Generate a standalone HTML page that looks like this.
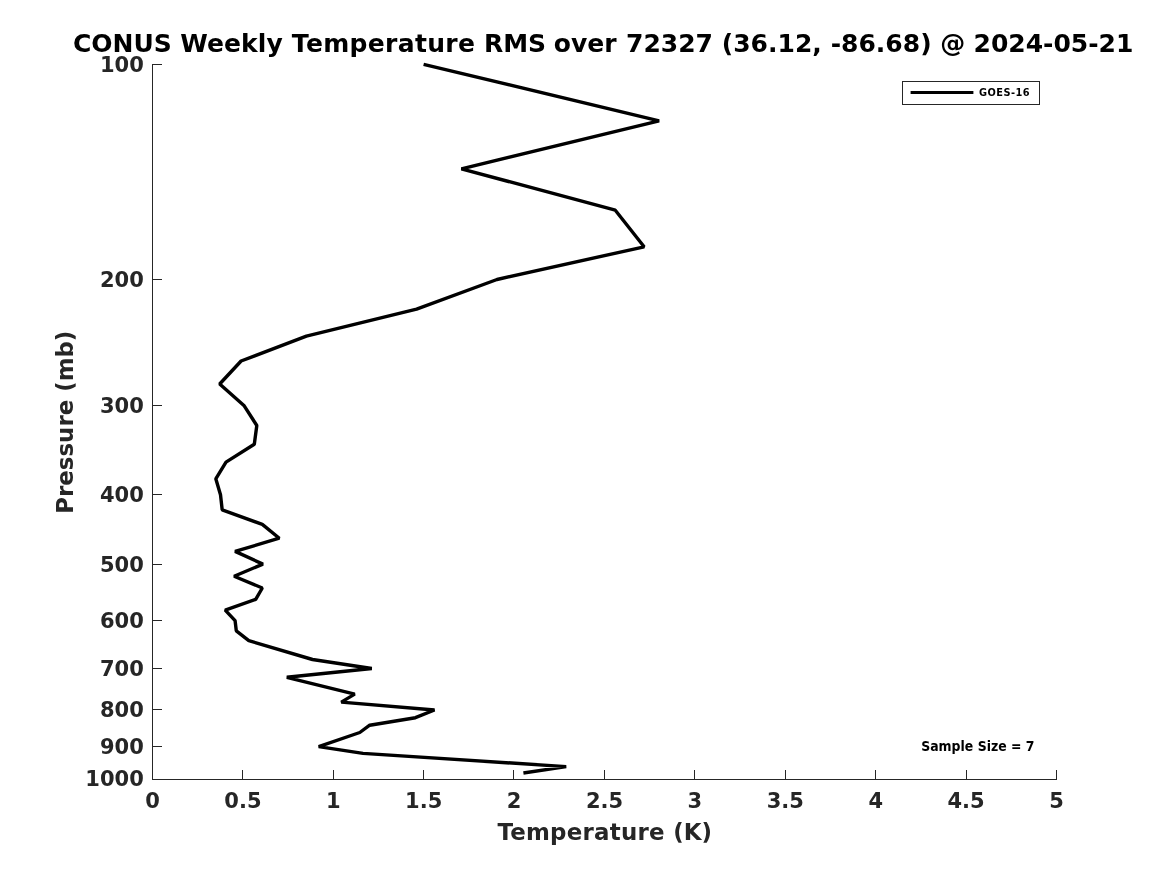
<!DOCTYPE html>
<html lang="en"><head><meta charset="utf-8"><title>CONUS Weekly Temperature RMS</title>
<style>
html,body{margin:0;padding:0;background:#fff;}
body{width:1167px;height:875px;overflow:hidden;}
svg{display:block;}
text{font-family:'DejaVu Sans','Liberation Sans',sans-serif;font-weight:bold;}
.tick{font-size:21px;fill:#262626;}
.lab{font-size:22.9px;fill:#262626;}
.title{font-size:25px;fill:#000;}
</style></head><body>
<svg width="1167" height="875" viewBox="0 0 1167 875">
<rect width="1167" height="875" fill="#fff"/>
<text class="title" y="51.8"><tspan x="72.9">CONUS </tspan><tspan x="180.2" style="letter-spacing:0.1px">Weekly </tspan><tspan x="291.85" style="letter-spacing:0.33px">Temperature </tspan><tspan x="483.9">RMS </tspan><tspan x="553.8">over </tspan><tspan x="626.0">72327 </tspan><tspan x="721.8">(36.12, </tspan><tspan x="830.7">-86.68) </tspan><tspan x="940.3">@ </tspan><tspan x="973.5">2024-05-21</tspan></text>
<g stroke="#262626" stroke-width="1" fill="none" shape-rendering="crispEdges">
<line x1="152.5" y1="64.0" x2="152.5" y2="780.0"/>
<line x1="152.0" y1="779.5" x2="1057.0" y2="779.5"/>
<line x1="152.5" y1="779.5" x2="152.5" y2="770.0"/>
<line x1="242.5" y1="779.5" x2="242.5" y2="770.0"/>
<line x1="333.5" y1="779.5" x2="333.5" y2="770.0"/>
<line x1="423.5" y1="779.5" x2="423.5" y2="770.0"/>
<line x1="513.5" y1="779.5" x2="513.5" y2="770.0"/>
<line x1="604.5" y1="779.5" x2="604.5" y2="770.0"/>
<line x1="694.5" y1="779.5" x2="694.5" y2="770.0"/>
<line x1="785.5" y1="779.5" x2="785.5" y2="770.0"/>
<line x1="875.5" y1="779.5" x2="875.5" y2="770.0"/>
<line x1="966.5" y1="779.5" x2="966.5" y2="770.0"/>
<line x1="1056.5" y1="779.5" x2="1056.5" y2="770.0"/>
<line x1="152.5" y1="64.5" x2="162.0" y2="64.5"/>
<line x1="152.5" y1="279.5" x2="162.0" y2="279.5"/>
<line x1="152.5" y1="405.5" x2="162.0" y2="405.5"/>
<line x1="152.5" y1="494.5" x2="162.0" y2="494.5"/>
<line x1="152.5" y1="564.5" x2="162.0" y2="564.5"/>
<line x1="152.5" y1="620.5" x2="162.0" y2="620.5"/>
<line x1="152.5" y1="668.5" x2="162.0" y2="668.5"/>
<line x1="152.5" y1="709.5" x2="162.0" y2="709.5"/>
<line x1="152.5" y1="746.5" x2="162.0" y2="746.5"/>
<line x1="152.5" y1="779.5" x2="162.0" y2="779.5"/>
</g>
<g class="tick" text-anchor="middle">
<text x="152.5" y="807.5">0</text>
<text x="242.9" y="807.5">0.5</text>
<text x="333.3" y="807.5">1</text>
<text x="423.7" y="807.5">1.5</text>
<text x="514.1" y="807.5">2</text>
<text x="604.5" y="807.5">2.5</text>
<text x="694.9" y="807.5">3</text>
<text x="785.3" y="807.5">3.5</text>
<text x="875.7" y="807.5">4</text>
<text x="966.1" y="807.5">4.5</text>
<text x="1056.5" y="807.5">5</text>
</g>
<g class="tick" text-anchor="end">
<text x="143.8" y="71.7">100</text>
<text x="143.8" y="286.9">200</text>
<text x="143.8" y="412.8">300</text>
<text x="143.8" y="502.2">400</text>
<text x="143.8" y="571.5">500</text>
<text x="143.8" y="628.1">600</text>
<text x="143.8" y="675.9">700</text>
<text x="143.8" y="717.4">800</text>
<text x="143.8" y="754.0">900</text>
<text x="143.8" y="785.9">1000</text>
</g>
<text class="lab" y="839.5"><tspan x="497.4" style="letter-spacing:0.25px">Temperature </tspan><tspan x="673.3">(K)</tspan></text>
<text class="lab" transform="translate(73.2,422.2) rotate(-90)" text-anchor="middle">Pressure (mb)</text>
<polyline points="423.6,64.3 659.1,120.9 461.4,168.8 615.3,210.2 644.1,246.8 497.0,279.5 416.6,309.1 306.4,336.2 241.1,361.0 219.7,384.0 243.9,405.4 256.8,425.5 254.3,444.3 226.0,462.1 215.8,478.8 220.5,494.8 222.2,509.9 262.3,524.4 279.3,538.2 235.1,551.4 262.9,564.1 234.1,576.2 262.3,588.0 255.7,599.3 225.2,610.2 235.1,620.7 236.3,630.9 248.8,640.7 312.5,659.5 371.8,668.5 286.8,677.3 354.7,694.1 341.3,702.1 434.5,710.0 415.4,717.7 369.7,725.2 359.8,732.5 318.7,746.6 363.0,753.4 566.2,766.6 523.4,773.0" fill="none" stroke="#000" stroke-width="3.4" stroke-linejoin="bevel" stroke-linecap="butt"/>
<rect x="902.5" y="81.5" width="137" height="23" fill="#fff" stroke="#262626" stroke-width="1" shape-rendering="crispEdges"/>
<line x1="910.6" y1="92.5" x2="973.4" y2="92.5" stroke="#000" stroke-width="3"/>
<text x="978.9" y="96.0" textLength="50.8" lengthAdjust="spacing" style="font-size:9.8px;fill:#000">GOES-16</text>
<text x="921.2" y="750.6" textLength="113.3" lengthAdjust="spacingAndGlyphs" style="font-size:13.2px;fill:#000">Sample Size = 7</text>
</svg></body></html>
